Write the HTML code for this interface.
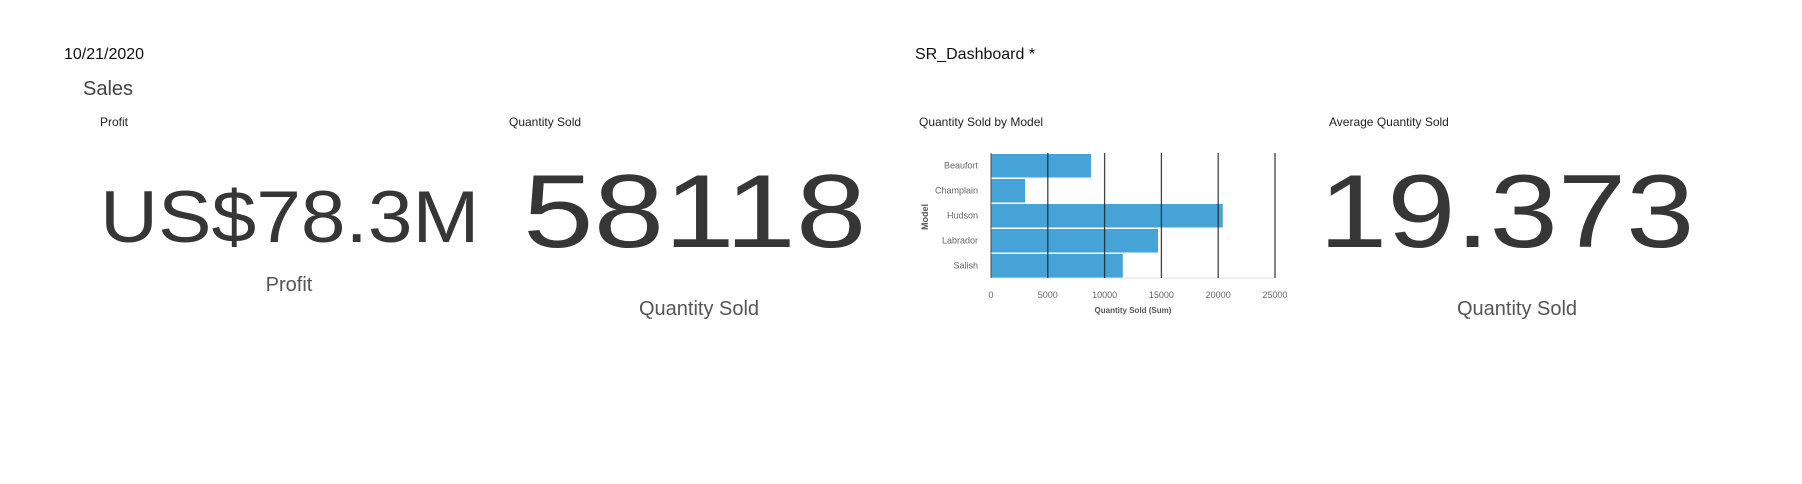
<!DOCTYPE html>
<html><head><meta charset="utf-8">
<style>
body{margin:0;width:1802px;height:484px;background:#fff;position:relative;overflow:hidden;font-family:"Liberation Sans",sans-serif;color:#333}
.t{position:absolute;white-space:nowrap;line-height:1}
.big{font-size:104px;color:#363636;transform-origin:0 0}
.sub{font-size:20px;color:#555;transform:translateX(-50%)}
.ttl{font-size:12px;color:#222}
</style></head><body>
<div class="t" style="left:64px;top:47px;font-size:16px;color:#111">10/21/2020</div>
<div class="t" style="left:915px;top:47px;font-size:16px;color:#111">SR_Dashboard *</div>
<div class="t" style="left:83px;top:79px;font-size:20px;color:#444">Sales</div>

<div class="t ttl" style="left:100px;top:116px">Profit</div>
<div class="t" style="left:100px;top:181px;font-size:73px;color:#363636;transform:scaleX(1.1);transform-origin:0 0">US$78.3M</div>
<div class="t sub" style="left:289px;top:275px">Profit</div>

<div class="t ttl" style="left:509px;top:116px">Quantity Sold</div>
<div class="t big" style="left:523px;top:160px;transform:scaleX(1.22)">58118</div>
<div class="t sub" style="left:699px;top:299px">Quantity Sold</div>

<div class="t ttl" style="left:919px;top:116px">Quantity Sold by Model</div>
<svg id="chart" style="position:absolute;left:0;top:0" width="1802" height="484"></svg>

<div class="t ttl" style="left:1329px;top:116px">Average Quantity Sold</div>
<div class="t big" style="left:1319px;top:160px;transform:scaleX(1.18)">19.373</div>
<div class="t sub" style="left:1517px;top:299px">Quantity Sold</div>

<script>
const categories=["Beaufort","Champlain","Hudson","Labrador","Salish"];
const values=[8800,3000,20400,14700,11600];
const ticks=[0,5000,10000,15000,20000,25000];
const NS="http://www.w3.org/2000/svg";
const svg=document.getElementById('chart');
const X0=991,X1=1275,Y0=153,Y1=278,MAX=25000;
const x=v=>X0+(v-0)/MAX*(X1-X0);
const band=(Y1-Y0)/categories.length;
const y=i=>Y0+i*band;
function mk(tag,attrs){const e=document.createElementNS(NS,tag);for(const k in attrs)e.setAttribute(k,attrs[k]);svg.appendChild(e);return e;}
categories.forEach((c,i)=>{
  const r=mk('rect',{x:x(0),y:y(i)+1,width:x(values[i])-x(0),height:band-1.5,fill:'#45a3d8'});
  
  
  const t=mk('text',{x:978,y:y(i)+band/2+3,'text-anchor':'end','font-size':9,fill:'#666','font-family':'Liberation Sans, sans-serif'});
  t.textContent=c;
  
  
});
mk('line',{x1:X0,x2:X1,y1:Y1,y2:Y1,stroke:'#ddd','stroke-width':1});
ticks.forEach(v=>{
  const l=mk('line',{x1:x(v),x2:x(v),y1:Y0,y2:Y1,stroke:v===0?'#333':'#222','stroke-width':v===0?1:1.3,'stroke-opacity':0.85});
  
  
  const t=mk('text',{x:x(v),y:298,'text-anchor':'middle','font-size':9,fill:'#666','font-family':'Liberation Sans, sans-serif'});
  t.textContent=v;
  
  
});
const xt=mk('text',{x:1133,y:313,'text-anchor':'middle','font-size':8,'font-weight':'bold',fill:'#555','font-family':'Liberation Sans, sans-serif'});
xt.textContent='Quantity Sold (Sum)';


const yt=mk('text',{x:928,y:217,'text-anchor':'middle','font-size':9,'font-weight':'bold',fill:'#555','font-family':'Liberation Sans, sans-serif',transform:'rotate(-90 928 217)'});
yt.textContent='Model';


</script>
</body></html>
